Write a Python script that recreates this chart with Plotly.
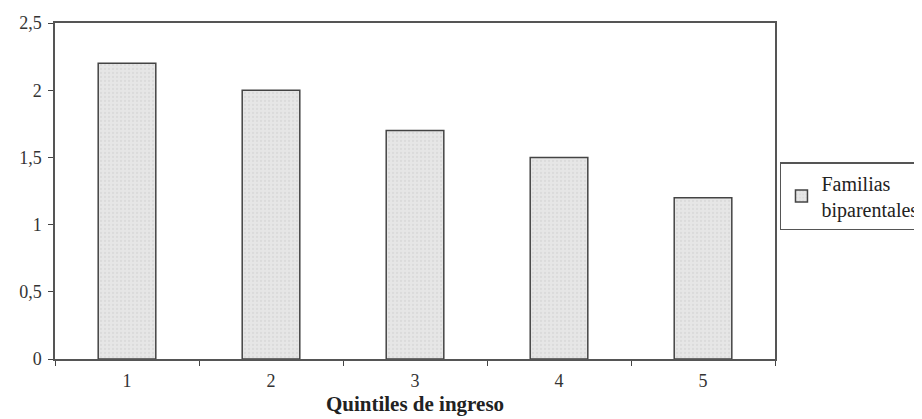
import plotly.graph_objects as go

categories = ["1", "2", "3", "4", "5"]
values = [2.2, 2.0, 1.7, 1.5, 1.2]
series_name = "Familias<br>biparentales"
x_title = "Quintiles de ingreso"

fig = go.Figure()
fig.add_trace(go.Bar(
    x=categories, y=values, name=series_name, width=0.4,
    marker=dict(color="#e2e2e2", line=dict(color="#444444", width=1.5),
                pattern=dict(shape=".", fgcolor="#cfcfcf", bgcolor="#e6e6e6",
                             size=4, solidity=0.25)),
    showlegend=True,
))

font = "Liberation Serif"
fig.update_layout(
    width=922, height=419,
    margin=dict(l=47, r=5, t=15, b=68),
    paper_bgcolor="white", plot_bgcolor="white",
    separators=",.",
    font=dict(family=font, size=18, color="#333333"),
    showlegend=True,
    legend=dict(
        x=0.8333, y=0.485, xanchor="left", yanchor="middle",
        bordercolor="#555555", borderwidth=1.5,
        font=dict(family=font, size=20, color="#222222"),
        itemwidth=30, tracegroupgap=0,
    ),
    bargap=0.6,
)
fig.update_xaxes(
    type="category", tickson="boundaries", ticks="outside", ticklen=5,
    tickcolor="#444444", showline=True, linecolor="#555555", linewidth=1.5,
    mirror=True, showgrid=False, automargin=False, domain=[0, 0.8276],
    ticklabelstandoff=5,
    tickfont=dict(family=font, size=18, color="#333333"),
    title=dict(text="<b>" + x_title + "</b>", standoff=6,
               font=dict(family=font, size=21, color="#222222")),
)
fig.update_yaxes(
    range=[0, 2.5], dtick=0.5, ticks="outside", ticklen=5, tickcolor="#444444",
    showline=True, linecolor="#555555", linewidth=1.5, mirror=True,
    showgrid=False, zeroline=False, automargin=False, ticklabelstandoff=3,
    tickfont=dict(family=font, size=18, color="#333333"),
)

fig.write_html("out.html")
